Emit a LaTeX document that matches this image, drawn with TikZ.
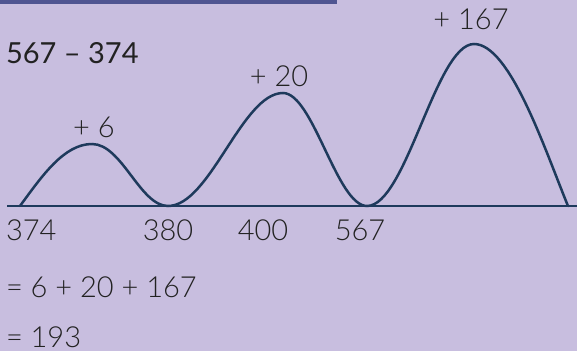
\documentclass[tikz,border=0pt]{standalone}
\usepackage{fontspec}
\setmainfont{Lato}
\newfontfamily\lightf{Lato Light}
\definecolor{bgc}{HTML}{C8BEDF}
\definecolor{barc}{HTML}{4F5591}
\definecolor{linec}{HTML}{1E3A5C}
\definecolor{txtc}{HTML}{222222}
\begin{document}
\begin{tikzpicture}[x=1pt,y=-1pt,
  lbl/.style={inner sep=0pt,outer sep=0pt,text=txtc,font=\lightf\fontsize{29}{34}\selectfont},
  ttl/.style={inner sep=0pt,outer sep=0pt,text=txtc,font=\fontsize{29}{34}\selectfont},
  curve/.style={draw=linec,line width=2.5pt},
  axis/.style={draw=linec,line width=2.5pt}]
\fill[bgc] (0,0) rectangle (577,351);
\useasboundingbox (0,0) rectangle (577,351);
\fill[barc] (0,0) rectangle (337,4);
% number line
\coordinate (L) at (7,206);
\coordinate (R) at (577,206);
\draw[axis] (L) -- (R);
% humps
\draw[curve,line cap=round]
  (20,206) .. controls (42,176) and (64,144) .. (92,144)
  .. controls (122,144) and (140,206) .. (168,206)
  .. controls (210,206) and (242,93) .. (283,93)
  .. controls (313,93) and (337,206) .. (367,206)
  .. controls (406,206) and (436,44) .. (474,44)
  .. controls (510,44) and (545,150) .. (568,206);
% labels
\node[ttl,anchor=base west] (title) at (6,63) {567 – 374};
\node[lbl,anchor=base] (p6) at (94,137) {+ 6};
\node[lbl,anchor=base] (p20) at (279,86) {+ 20};
\node[lbl,anchor=base] (p167) at (471,29) {+ 167};
\node[lbl,anchor=base west] (n374) at (6,240) {374};
\node[lbl,anchor=base] (n380) at (168,240) {380};
\node[lbl,anchor=base] (n400) at (263,240) {400};
\node[lbl,anchor=base] (n567) at (360,240) {567};
\node[lbl,anchor=base west] (sum) at (6,297) {= 6 + 20 + 167};
\node[lbl,anchor=base west] (res) at (6,347) {= 193};
\end{tikzpicture}
\end{document}
